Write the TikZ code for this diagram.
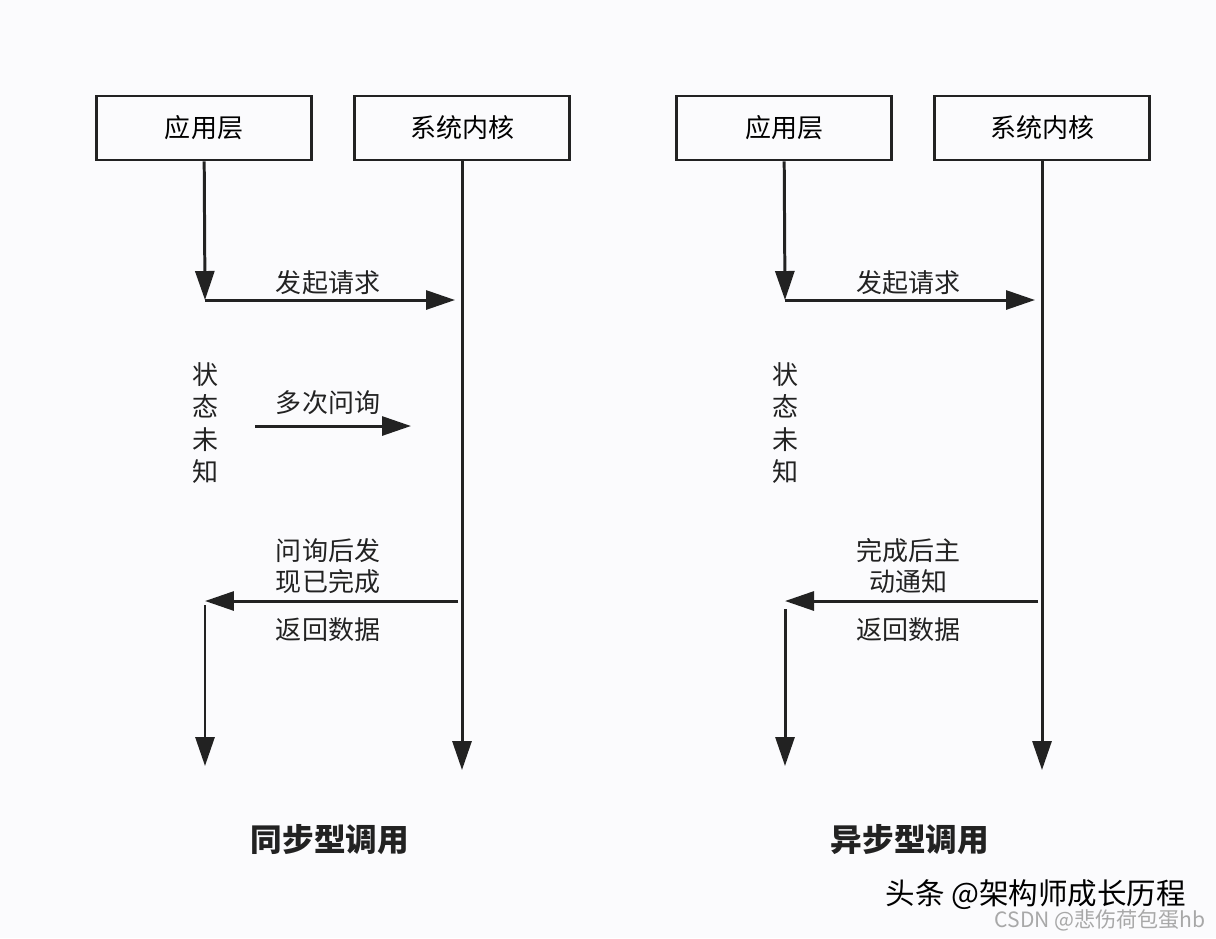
\documentclass[tikz,border=0pt]{standalone}
\usepackage{fontspec}
\newfontfamily\cjk{Noto Sans CJK SC}
\usetikzlibrary{arrows.meta, positioning}
\definecolor{ink}{HTML}{222222}
\definecolor{paper}{HTML}{FBFBFD}
\definecolor{mark}{HTML}{A8A8A8}

\begin{document}
\begin{tikzpicture}[x=0.02cm, y=-0.02cm,
      box/.style={rectangle, draw=ink, line width=1.6pt, minimum width=4.3cm,
                  minimum height=1.28cm, font=\cjk\fontsize{14.8}{18}\selectfont},
      lbl/.style={font=\cjk\fontsize{14.8}{17.5}\selectfont, text=ink, align=center},
      flow/.style={draw=ink, line width=1.7pt, -{Triangle[length=0.58cm, width=0.38cm]}},
      title/.style={font=\cjk\bfseries\fontsize{18}{22}\selectfont, text=ink}]
  \fill[paper] (0,0) rectangle (1216,938);
  % two halves: synchronous and asynchronous call
  \foreach \ox/\s/\msg/\ttl/\dy in {0/L/{问询后发\\现已完成}/同步型调用/605,
                                   580/R/{完成后主\\动通知}/异步型调用/609} {
    \node[box] (app\s) at (\ox+204,128) {应用层};
    \node[box] (ker\s) at (\ox+462,128) {系统内核};
    \coordinate (req\s) at (\ox+205,300);
    \coordinate (reqEnd\s) at (\ox+455,300);
    \coordinate (kerEnd\s) at (\ox+462,770);
    \coordinate (retStart\s) at (\ox+458,601);
    \coordinate (retEnd\s) at (\ox+205,601);
    \coordinate (down\s) at (\ox+205,\dy);
    \coordinate (appEnd\s) at (\ox+205,766);
    \draw[flow] (app\s) -- (req\s);
    \draw[flow] (req\s) -- (reqEnd\s);
    \draw[flow] (ker\s) -- (kerEnd\s);
    \draw[flow] (retStart\s) -- (retEnd\s);
    \draw[flow] (down\s) -- (appEnd\s);
    \node[lbl] (reqLbl\s) at (\ox+328,283) {发起请求};
    \node[lbl, font=\cjk\fontsize{14.8}{18.5}\selectfont] (state\s) at (\ox+205,423) {状\\态\\未\\知};
    \node[lbl] (msg\s) at (\ox+328,566) {\msg};
    \node[lbl] (data\s) at (\ox+328,630) {返回数据};
    \node[title] (ttl\s) at (\ox+330,840) {\ttl};
  }
  % polling, only in the synchronous case
  \coordinate (pollStart) at (255,426);
  \coordinate (pollEnd) at (411,426);
  \draw[flow] (pollStart) -- (pollEnd);
  \node[lbl] (poll) at (328,403) {多次问询};
  % watermarks
  \node[font=\cjk\fontsize{16.8}{18}\selectfont, anchor=east] (wm) at (1192,895) {头条 @架构师成长历程};
  \node[font=\cjk\fontsize{12}{14}\selectfont, text=mark, anchor=east] (csdn) at (1212,920) {CSDN @悲伤荷包蛋hb};
\end{tikzpicture}
\end{document}
